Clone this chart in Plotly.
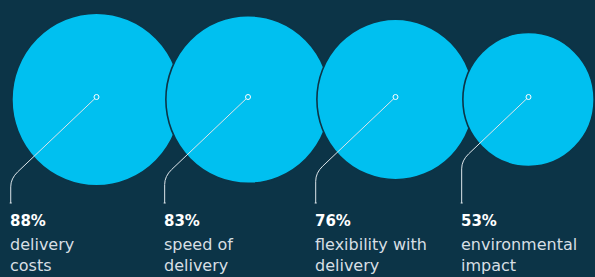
import plotly.graph_objects as go

# ---- data ----
categories = ["delivery\ncosts", "speed of\ndelivery", "flexibility with\ndelivery", "environmental\nimpact"]
values = [88, 83, 76, 53]

# ---- layout / style constants ----
W, H = 595, 277
BG = "#0c3447"
CYAN = "#00c0f0"
LINE = "#dde5ea"
TEXT = "#d7dfe4"
CENTER_X = [96.5, 248, 395.5, 528.5]   # circle centre positions (px)
CENTER_Y = 99.5
MARK_Y = 97
K = 9.2          # radius scale: r = K * sqrt(value) (area-proportional)
XS = 0.98        # horizontal pixel aspect of the original artwork
SLOPE = 0.95     # leader diagonal slope
LEADER_BOTTOM = 203
PCT_Y = 220.5
LABEL_Y0 = 244
LABEL_DY = 21.5

fig = go.Figure()
shapes = []
annotations = []

for i, v in enumerate(values):
    rv = K * v ** 0.5
    rh = rv * XS
    cx = CENTER_X[i]
    shapes.append(dict(type="circle", xref="x", yref="y",
                       x0=cx - rh, x1=cx + rh, y0=CENTER_Y - rv, y1=CENTER_Y + rv,
                       fillcolor=CYAN, line=dict(color=BG, width=1.6), layer="below"))

for i, v in enumerate(values):
    rv = K * v ** 0.5
    rh = rv * XS
    cx = CENTER_X[i]
    xv = cx - rh - 1.2
    yc = MARK_Y + SLOPE * (cx - xv)
    b = 7
    x1, y1 = xv + b, yc - SLOPE * b
    y2 = yc + b * 1.2
    path = (f"M {cx},{MARK_Y} L {x1},{y1} Q {xv},{yc} {xv},{y2} L {xv},{LEADER_BOTTOM} "
            f"M {xv-1},{LEADER_BOTTOM} L {xv+1},{LEADER_BOTTOM}")
    shapes.append(dict(type="path", xref="x", yref="y", path=path,
                       line=dict(color=LINE, width=1), layer="below"))
    annotations.append(dict(x=xv - 3, y=PCT_Y, xref="x", yref="y", text=f"<b>{v}%</b>",
                            showarrow=False, xanchor="left", yanchor="middle",
                            font=dict(family="DejaVu Sans", size=15, color="#ffffff")))
    for j, line in enumerate(categories[i].split("\n")):
        annotations.append(dict(x=xv - 3, y=LABEL_Y0 + j * LABEL_DY, xref="x", yref="y",
                                text=line, showarrow=False, xanchor="left", yanchor="middle",
                                font=dict(family="DejaVu Sans", size=16, color=TEXT)))

fig.add_trace(go.Scatter(x=CENTER_X, y=[MARK_Y] * len(values), mode="markers",
                         marker=dict(size=5, color=CYAN, line=dict(color="#ffffff", width=1)),
                         hoverinfo="skip", showlegend=False))

fig.update_layout(width=W, height=H, margin=dict(l=0, r=0, t=0, b=0),
                  paper_bgcolor=BG, plot_bgcolor=BG, shapes=shapes, annotations=annotations,
                  xaxis=dict(range=[0, W], visible=False, fixedrange=True),
                  yaxis=dict(range=[H, 0], visible=False, fixedrange=True),
                  showlegend=False)

fig.write_html("out.html", config={"displayModeBar": False},
               post_script="document.body.style.margin='0';document.body.style.padding='0';"
                           "document.body.style.overflow='hidden';")
